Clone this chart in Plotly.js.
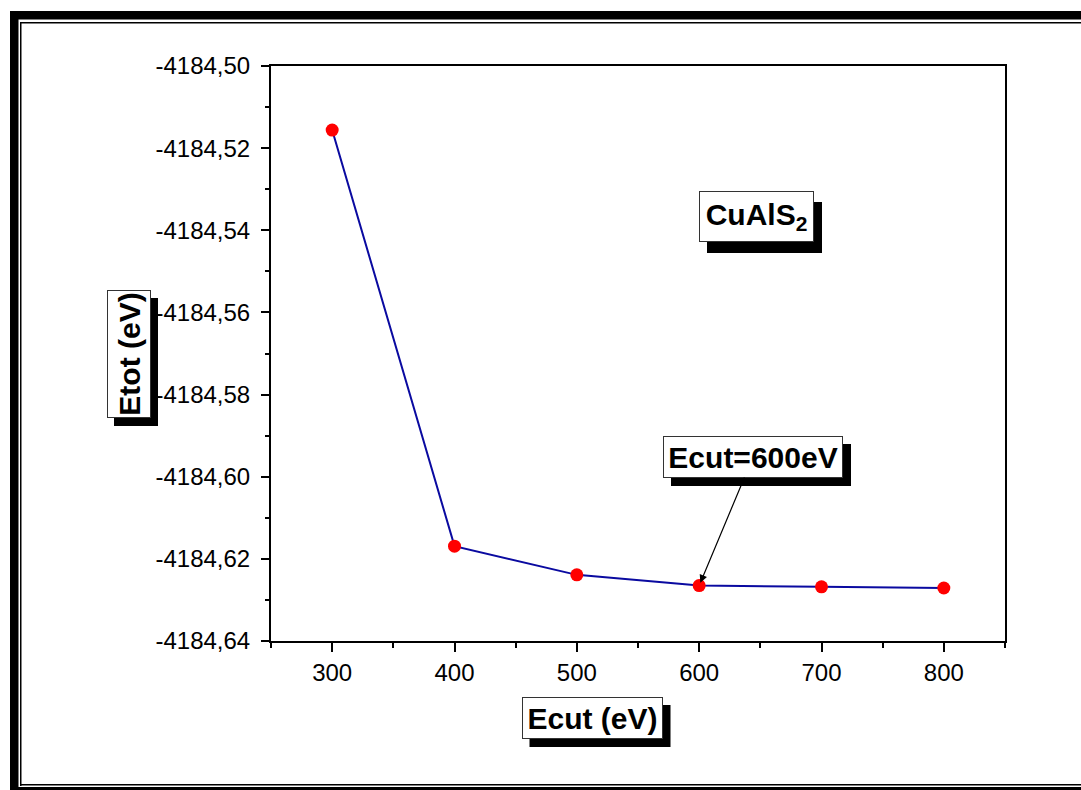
<!DOCTYPE html>
<html>
<head>
<meta charset="utf-8">
<script src="https://cdn.plot.ly/plotly-3.0.1.min.js"></script>
<style>
html,body{margin:0;padding:0;background:#fff;}
#chart{width:1081px;height:790px;}
</style>
</head>
<body>
<div id="chart"></div>
<script>
// ---- data ----
const ecut = [300, 400, 500, 600, 700, 800];
const etot = [-4184.5156, -4184.6169, -4184.6239, -4184.6265, -4184.6268, -4184.6271];
const yTickVals = [-4184.50, -4184.52, -4184.54, -4184.56, -4184.58, -4184.60, -4184.62, -4184.64];
const yTickText = ["-4184,50", "-4184,52", "-4184,54", "-4184,56", "-4184,58", "-4184,60", "-4184,62", "-4184,64"];
const xTickVals = [300, 400, 500, 600, 700, 800];
const xLabel = "Ecut (eV)";
const yLabel = "Etot (eV)";
const compoundLabel = "CuAlS<sub>2</sub>";
const noteLabel = "Ecut=600eV";
const noteX = 600;
const noteY = -4184.6265;

// ---- layout geometry (pixels) ----
const W = 1081, H = 790;
const PL = 271, PR = 1005, PT = 66, PB = 641;
const px = x => (x - PL) / (PR - PL);
const py = y => (PB - y) / (PB - PT);
const FONT = "Liberation Sans, Arial, sans-serif";
const TS = 30;
const PAD = 2, BW = 1;

const trace = {
  x: ecut, y: etot, type: "scatter", mode: "lines+markers",
  line: {color: "#0a0aa0", width: 2},
  marker: {color: "#ff0000", size: 13},
  hoverinfo: "skip"
};

function rectPx(x0, y0, x1, y1) {
  return {type: "rect", xref: "paper", yref: "paper",
    x0: px(x0), x1: px(x1), y0: py(y0), y1: py(y1),
    fillcolor: "#000", line: {width: 0}, layer: "above"};
}

// box: center cx, cy; screen width w, height h; shadow offsets sx, sy
function boxed(text, cx, cy, w, h, angle, sx, sy) {
  const rot = angle === -90;
  const tw = rot ? h : w, th = rot ? w : h;
  const ann = {
    text: text, xref: "paper", yref: "paper", x: px(cx), y: py(cy), showarrow: false,
    xanchor: "center", yanchor: "middle", textangle: angle || 0,
    width: tw - 2 * PAD - 2 * BW, height: th - 2 * PAD - 2 * BW,
    font: {family: FONT, size: TS, color: "#000"},
    bgcolor: "#fff", bordercolor: "#333", borderwidth: BW, borderpad: PAD
  };
  const shadow = rectPx(cx - w / 2 + sx, cy - h / 2 + sy, cx + w / 2 + sx, cy + h / 2 + sy);
  return {ann, shadow};
}

const bx = boxed("<b>" + xLabel + "</b>", 592, 718, 141, 42, 0, 8, 8);
const by = boxed("<b>" + yLabel + "</b>", 129, 354, 44, 128, -90, 7, 8);
const bc = boxed("<b>" + compoundLabel + "</b>", 756.5, 216.5, 115, 51, 0, 8, 11);

// note box with arrow
const noteCx = 753, noteCy = 457, noteW = 180, noteH = 42;
const notePtX = PL + (noteX - 250) / 600 * (PR - PL);
const notePtY = PT + (-4184.50 - noteY) / 0.14 * (PB - PT);
const noteAnn = {
  text: "<b>" + noteLabel + "</b>", xref: "x", yref: "y", x: noteX, y: noteY,
  showarrow: true, ax: noteCx - notePtX, ay: noteCy - notePtY,
  arrowcolor: "#000", arrowwidth: 1.2, arrowhead: 2, arrowsize: 1.3, standoff: 3,
  width: noteW - 2 * PAD - 2 * BW, height: noteH - 2 * PAD - 2 * BW,
  font: {family: FONT, size: TS, color: "#000"},
  bgcolor: "#fff", bordercolor: "#333", borderwidth: BW, borderpad: PAD
};
const noteShadow = rectPx(noteCx - noteW / 2 + 8, noteCy - noteH / 2 + 8, noteCx + noteW / 2 + 8, noteCy + noteH / 2 + 8);

const annotations = [bx.ann, by.ann, bc.ann, noteAnn];

const shapes = [
  rectPx(10, 11, 18.5, 790),
  rectPx(10, 11, 1081, 19.5),
  rectPx(20, 22, 21.5, 786),
  rectPx(20, 22, 1081, 23.5),
  rectPx(20, 784, 1081, 785.5),
  rectPx(10, 787, 1081, 790),
  bx.shadow, by.shadow, bc.shadow, noteShadow
];

const layout = {
  width: W, height: H,
  margin: {l: PL, r: W - PR, t: PT, b: H - PB, pad: 0},
  paper_bgcolor: "#fff", plot_bgcolor: "#fff",
  showlegend: false,
  font: {family: FONT, color: "#000"},
  xaxis: {
    range: [250, 850], tickvals: xTickVals, ticks: "outside", ticklen: 9, tickwidth: 2,
    tickcolor: "#000", showline: true, linecolor: "#000", linewidth: 2, mirror: true,
    showgrid: false, zeroline: false, tickfont: {size: 24, family: FONT}, ticklabelstandoff: 0,
    minor: {dtick: 50, tick0: 250, ticks: "outside", ticklen: 5, tickwidth: 2, tickcolor: "#000", showgrid: false}
  },
  yaxis: {
    range: [-4184.64, -4184.50], tickvals: yTickVals, ticktext: yTickText, ticks: "outside",
    ticklen: 8, tickwidth: 2, tickcolor: "#000", showline: true, linecolor: "#000", linewidth: 2,
    mirror: true, showgrid: false, zeroline: false, tickfont: {size: 24, family: FONT},
    ticklabelstandoff: 6,
    minor: {dtick: 0.01, tick0: -4184.64, ticks: "outside", ticklen: 4, tickwidth: 2, tickcolor: "#000", showgrid: false}
  },
  annotations: annotations,
  shapes: shapes
};

Plotly.newPlot("chart", [trace], layout, {displayModeBar: false, staticPlot: true});
</script>
</body>
</html>
